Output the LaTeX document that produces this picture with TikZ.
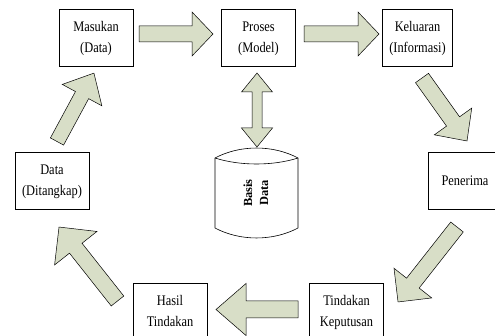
\documentclass[tikz,border=0pt]{standalone}
\usepackage{fontspec}
\usepackage{graphicx}
\setmainfont{Liberation Serif}
\usetikzlibrary{calc}
\definecolor{hijaupucat}{RGB}{216,222,199}

% teks sedikit ditinggikan seperti pada gambar asli
\newcommand\isi[1]{\scalebox{1}[1.18]{\begin{tabular}{@{}c@{}}#1\end{tabular}}}

\tikzset{
    kotak/.style={draw, line width=0.6pt, fill=white, minimum width=74pt, minimum height=57pt,
        inner sep=0pt, align=center, font=\fontsize{12.4}{17.6}\selectfont},
    panahblok/.style={draw, line width=0.5pt, fill=hijaupucat, line join=miter}
}

\begin{document}
\begin{tikzpicture}[x=1pt, y=-1pt]
    % #1 ekor, #2 ujung, #3 setengah lebar badan, #4 setengah lebar kepala, #5 panjang kepala
    \def\panah#1#2#3#4#5{%
        \path let \p1=($(#2)-(#1)$), \n1={atan2(\y1,\x1)}, \n2={veclen(\x1,\y1)} in
            \pgfextra{\xdef\sudut{\n1}\xdef\panjang{\n2}};
        \draw[panahblok, shift={(#1)}, rotate=\sudut] (0,-#3) -- (\panjang-#5,-#3) -- (\panjang-#5,-#4)
            -- (\panjang,0) -- (\panjang-#5,#4) -- (\panjang-#5,#3) -- (0,#3) -- cycle;
    }

    \def\panahdua#1#2#3#4#5{%
        \path let \p1=($(#2)-(#1)$), \n1={atan2(\y1,\x1)}, \n2={veclen(\x1,\y1)} in
            \pgfextra{\xdef\sudut{\n1}\xdef\panjang{\n2}};
        \draw[panahblok, shift={(#1)}, rotate=\sudut] (0,0) -- (#5,-#4) -- (#5,-#3) -- (\panjang-#5,-#3)
            -- (\panjang-#5,-#4) -- (\panjang,0) -- (\panjang-#5,#4) -- (\panjang-#5,#3) -- (#5,#3)
            -- (#5,#4) -- cycle;
    }

    \useasboundingbox (0,0) rectangle (495,336);
    \clip (0,0) rectangle (495,336);

    % kotak proses
    \node[kotak] (masukan) at (96,37.5) {\isi{Masukan\\(Data)}};
    \node[kotak] (proses) at (258.5,37.5) {\isi{Proses\\(Model)}};
    \node[kotak, minimum width=70pt] (keluaran) at (417.5,38) {\isi{Keluaran\\(Informasi)}};
    \node[kotak] (penerima) at (465,181) {\isi{Penerima}};
    \node[kotak] (tindakan) at (346.5,311.5) {\isi{Tindakan\\Keputusan}};
    \node[kotak] (hasil) at (170,311.5) {\isi{Hasil\\Tindakan}};
    \node[kotak] (data) at (52,181) {\isi{Data\\(Ditangkap)}};

    % basis data (tabung)
    \draw[line width=0.6pt, fill=white] (215,158) .. controls (240,144.7) and (273,144.7) .. (298,158)
        -- (298,228) .. controls (273,241.3) and (240,241.3) .. (215,228) -- cycle;
    \draw[line width=0.6pt] (215,158) .. controls (240,166) and (273,166) .. (298,158);
    \node[rotate=90, align=center, font=\fontsize{12.4}{16}\selectfont\bfseries] (basis) at (256,193) {Basis\\Data};

    % titik ujung panah
    \coordinate (m1) at (139,34);   \coordinate (p1) at (213,34);
    \coordinate (p2) at (304,34);   \coordinate (k1) at (379,34);
    \coordinate (k2) at (422,78);   \coordinate (r1) at (467,141);
    \coordinate (r2) at (457,227);  \coordinate (t1) at (398,302);
    \coordinate (t2) at (298,309.5); \coordinate (h1) at (216,309.5);
    \coordinate (h2) at (117.5,301); \coordinate (d1) at (59,227);
    \coordinate (d2) at (57,141.5); \coordinate (m2) at (94,73);
    \coordinate (pb) at (257,73);   \coordinate (bp) at (257,147);

    % masukan -> proses -> keluaran
    \panah{m1}{p1}{8}{22}{21}
    \panah{p2}{k1}{8}{22}{21}
    % keluaran -> penerima
    \panah{k2}{r1}{8}{23}{24}
    % penerima -> tindakan keputusan
    \panah{r2}{t1}{8}{24}{24}
    % tindakan keputusan -> hasil tindakan
    \panah{t2}{h1}{8.5}{26}{30}
    % hasil tindakan -> data
    \panah{h2}{d1}{8}{27}{27}
    % data -> masukan
    \panah{d2}{m2}{7.5}{22.5}{25}

    % proses <-> basis data
    \panahdua{pb}{bp}{5}{15.5}{19}

\end{tikzpicture}
\end{document}
